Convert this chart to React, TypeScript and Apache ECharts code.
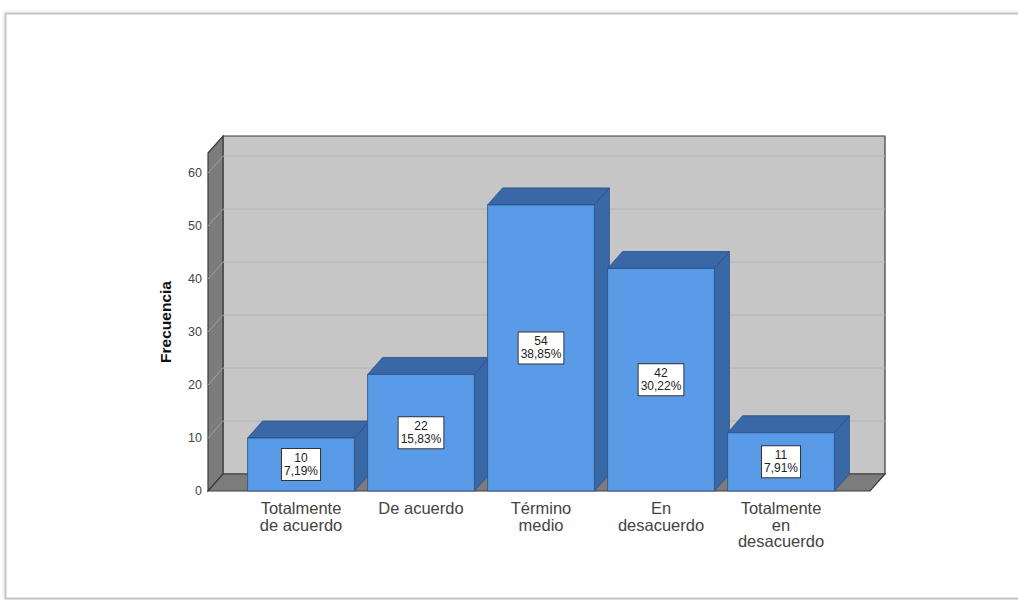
import React, { useEffect, useRef } from "react";
import * as echarts from "echarts";

const categories = ["Totalmente\nde acuerdo", "De acuerdo", "Término\nmedio", "En\ndesacuerdo", "Totalmente\nen\ndesacuerdo"];
const counts = [10, 22, 54, 42, 11];
const percents = ["7,19%", "15,83%", "38,85%", "30,22%", "7,91%"];
const yTicks = [0, 10, 20, 30, 40, 50, 60];
const yMax = 63.8;

const DX = 15;
const DY = -17;
const FONT = "'Liberation Sans', Arial, sans-serif";

export default function App() {
  const ref = useRef<HTMLDivElement>(null);
  useEffect(() => {
    if (!ref.current) return;
    const chart = echarts.init(ref.current, null, { renderer: "svg" });

    const wallsRender = (params: any, api: any) => {
      const cs = params.coordSys;
      const xl = cs.x - 33;
      const xr = cs.x + cs.width + 29;
      const yT = cs.y;
      const yB = cs.y + cs.height;
      const edge = "#3c3c3c";
      return {
        type: "group",
        children: [
          {
            type: "rect",
            shape: { x: xl + DX, y: yT + DY, width: xr - xl, height: yB - yT },
            style: { fill: "#c6c6c6", stroke: edge, lineWidth: 1.2 },
          },
          {
            type: "polygon",
            shape: { points: [[xl, yT], [xl + DX, yT + DY], [xl + DX, yB + DY], [xl, yB]] },
            style: { fill: "#7c7c7c", stroke: edge, lineWidth: 1.2 },
          },
          {
            type: "polygon",
            shape: { points: [[xl, yB], [xl + DX, yB + DY], [xr + DX, yB + DY], [xr, yB]] },
            style: { fill: "#7c7c7c", stroke: edge, lineWidth: 1.2 },
          },
        ],
      };
    };

    const gridRender = (params: any, api: any) => {
      const cs = params.coordSys;
      const xl = cs.x - 33;
      const xr = cs.x + cs.width + 29;
      const v = api.value(0);
      const y = api.coord([0, v])[1];
      if (v === 0) return { type: "group", children: [] };
      return {
        type: "group",
        children: [
          {
            type: "line",
            shape: { x1: xl + DX, y1: y + DY, x2: xr + DX, y2: y + DY },
            style: { stroke: "#b4b4b4", lineWidth: 1 },
          },
          {
            type: "line",
            shape: { x1: xl, y1: y, x2: xl + DX, y2: y + DY },
            style: { stroke: "#a0a0a0", lineWidth: 1 },
          },
        ],
      };
    };

    const barRender = (params: any, api: any) => {
      const i = api.value(0);
      const v = api.value(1);
      const [cx, yv] = api.coord([i, v]);
      const y0 = api.coord([i, 0])[1];
      const w = api.size([1, 0])[0] * 0.89;
      const xl = cx - w / 2;
      const xr = cx + w / 2;
      const dark = "#3a67a6";
      const line = "#2a4f85";
      return {
        type: "group",
        children: [
          {
            type: "polygon",
            shape: { points: [[xr, yv], [xr + DX, yv + DY], [xr + DX, y0 + DY], [xr, y0]] },
            style: { fill: dark, stroke: line, lineWidth: 0.8 },
          },
          {
            type: "polygon",
            shape: { points: [[xl, yv], [xl + DX, yv + DY], [xr + DX, yv + DY], [xr, yv]] },
            style: { fill: dark, stroke: line, lineWidth: 0.8 },
          },
          {
            type: "rect",
            shape: { x: xl, y: yv, width: w, height: y0 - yv },
            style: { fill: "#5a9be8", stroke: line, lineWidth: 0.8 },
          },
          {
            type: "text",
            x: cx,
            y: (yv + y0) / 2,
            style: {
              text: `${counts[i]}\n${percents[i]}`,
              fill: "#222",
              font: `12px ${FONT}`,
              lineHeight: 13,
              align: "center",
              verticalAlign: "middle",
              backgroundColor: "#fff",
              borderColor: "#333",
              borderWidth: 1,
              padding: [3, 2, 2, 2],
            },
          },
        ],
      };
    };

    chart.setOption({
      animation: false,
      backgroundColor: "#fff",
      graphic: [
        {
          type: "rect",
          shape: { x: 5.5, y: 13.5, width: 1040, height: 585 },
          style: { fill: "#fff", stroke: "#c4c4c4", lineWidth: 2, shadowBlur: 4, shadowColor: "rgba(0,0,0,0.15)" },
          z: -10,
        },
      ],
      grid: { left: 241, width: 600, top: 153, height: 338 },
      xAxis: {
        type: "category",
        data: categories,
        axisLine: { show: false },
        axisTick: { show: false },
        axisLabel: {
          color: "#444",
          fontSize: 16.5,
          lineHeight: 16.5,
          margin: 9,
          fontFamily: FONT,
        },
      },
      yAxis: {
        type: "value",
        min: 0,
        max: yMax,
        interval: 10,
        name: "Frecuencia",
        nameLocation: "middle",
        nameGap: 68,
        nameTextStyle: {
          color: "#111",
          fontSize: 15.5,
          fontWeight: "bold",
          fontFamily: FONT,
        },
        axisLine: { show: false },
        axisTick: { show: false },
        splitLine: { show: false },
        axisLabel: {
          color: "#444",
          fontSize: 12.5,
          margin: 39,
          showMaxLabel: false,
          fontFamily: FONT,
        },
      },
      series: [
        {
          type: "custom",
          renderItem: wallsRender,
          data: [[0, 0]],
          z: 1,
          silent: true,
          clip: false,
        },
        {
          type: "custom",
          renderItem: gridRender,
          data: yTicks.map((t) => [t]),
          encode: { y: 0 },
          z: 2,
          silent: true,
          clip: false,
        },
        {
          type: "custom",
          renderItem: barRender,
          data: counts.map((c, i) => [i, c]),
          encode: { x: 0, y: 1 },
          z: 3,
          clip: false,
        },
      ],
    });
    return () => chart.dispose();
  }, []);
  return <div ref={ref} style={{ position: "fixed", left: 0, top: 0, width: 1018, height: 600 }} />;
}
